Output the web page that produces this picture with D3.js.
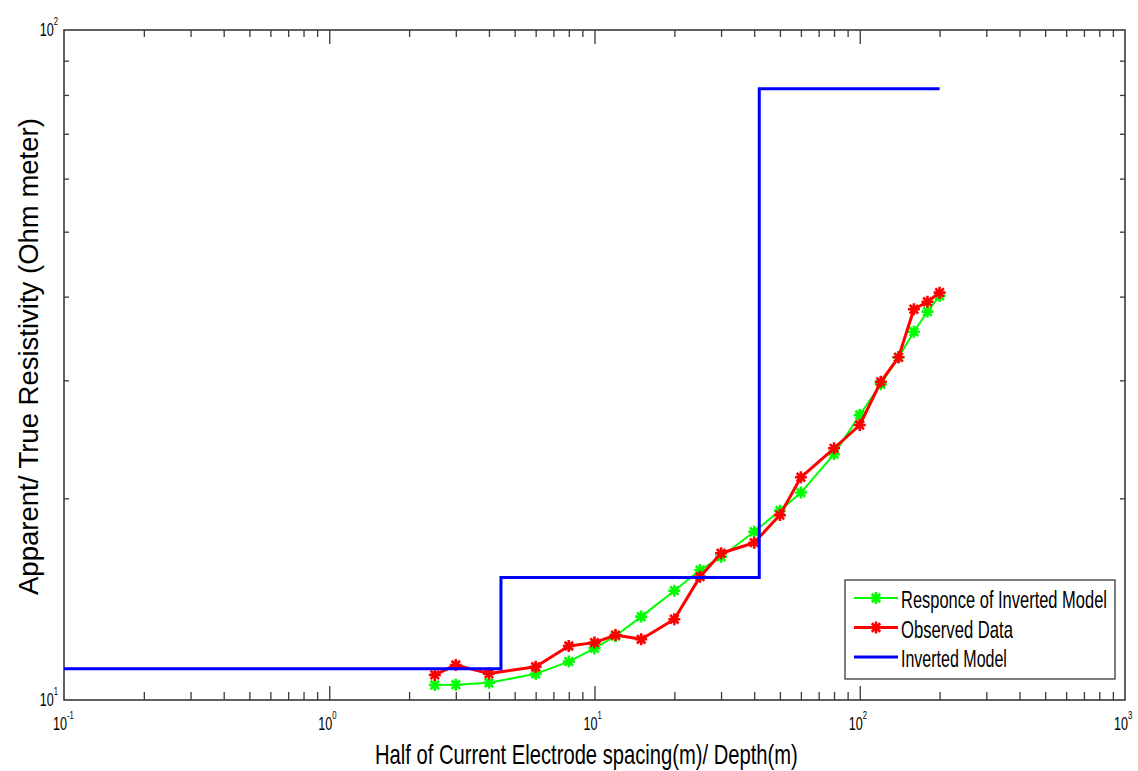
<!DOCTYPE html>
<html>
<head>
<meta charset="utf-8">
<script src="https://cdn.jsdelivr.net/npm/d3@7"></script>
<style>
  html, body { margin: 0; padding: 0; background: #fff; }
  svg { display: block; }
  text { font-family: "Liberation Sans", Arial, sans-serif; fill: #000; }
</style>
</head>
<body>
<svg id="chart" width="1138" height="771"></svg>
<script>
// Half electrode spacing AB/2 (m)
const spacing = [2.5, 3, 4, 6, 8, 10, 12, 15, 20, 25, 30, 40, 50, 60, 80, 100, 120, 140, 160, 180, 200];
// Observed apparent resistivity (Ohm m)
const observed = [10.9, 11.28, 10.95, 11.21, 12.04, 12.18, 12.5, 12.32, 13.2, 15.28, 16.56, 17.17, 18.88, 21.5, 23.75, 25.73, 29.85, 32.47, 38.3, 39.3, 40.55];
// Forward response of the inverted model (Ohm m)
const response = [10.53, 10.54, 10.61, 10.94, 11.41, 11.94, 12.46, 13.32, 14.56, 15.63, 16.36, 17.83, 19.17, 20.4, 23.28, 26.63, 29.6, 32.47, 35.45, 37.99, 40.1];
// Layered model: top depth of each layer and its true resistivity
const layerTop = [0.1, 4.44, 41.8, 200];
const layerRho = [11.13, 15.24, 81.7, 81.7];

const xDecades = [-1, 0, 1, 2, 3];
const yDecades = [1, 2];

const legendItems = [
  { label: "Responce of Inverted Model", color: "#00ff00", marker: true, width: 2 },
  { label: "Observed Data", color: "#ff0000", marker: true, width: 3 },
  { label: "Inverted Model", color: "#0000ff", marker: false, width: 3 }
];

const svg = d3.select("#chart");
const mLeft = 64, mRight = 1125, mTop = 30, mBottom = 700;

const x = d3.scaleLog().domain([0.1, 1000]).range([mLeft, mRight]);
const y = d3.scaleLog().domain([10, 100]).range([mBottom, mTop]);

const axisColor = "#3a3a3a";

// minor and major tick values on the log axes
const xMinor = [];
for (let d = -1; d < 3; d++) for (let k = 2; k <= 9; k++) xMinor.push(k * Math.pow(10, d));
const xMajor = xDecades.map(d => Math.pow(10, d));
const yMinor = [];
for (let k = 2; k <= 9; k++) yMinor.push(k * 10);

const xBottom = d3.axisBottom(x).tickValues(xMinor).tickSize(-8).tickFormat("");
const xBottomMajor = d3.axisBottom(x).tickValues(xMajor.slice(1, -1)).tickSize(-14).tickFormat("");
const xTop = d3.axisTop(x).tickValues(xMinor).tickSize(-7).tickFormat("");
const xTopMajor = d3.axisTop(x).tickValues(xMajor.slice(1, -1)).tickSize(-14).tickFormat("");
const yLeft = d3.axisLeft(y).tickValues(yMinor).tickSize(-5).tickFormat("");
const yRight = d3.axisRight(y).tickValues(yMinor).tickSize(-5).tickFormat("");

function styleAxis(g) {
  g.selectAll(".domain").remove();
  g.selectAll("line").attr("stroke", axisColor).attr("stroke-width", 1.3);
}
svg.append("g").attr("transform", `translate(0,${mBottom})`).call(xBottom).call(styleAxis);
svg.append("g").attr("transform", `translate(0,${mBottom})`).call(xBottomMajor).call(styleAxis);
svg.append("g").attr("transform", `translate(0,${mTop})`).call(xTop).call(styleAxis);
svg.append("g").attr("transform", `translate(0,${mTop})`).call(xTopMajor).call(styleAxis);
svg.append("g").attr("transform", `translate(${mLeft},0)`).call(yLeft).call(styleAxis);
svg.append("g").attr("transform", `translate(${mRight},0)`).call(yRight).call(styleAxis);

// axes box
svg.append("rect")
  .attr("x", mLeft).attr("y", mTop)
  .attr("width", mRight - mLeft).attr("height", mBottom - mTop)
  .attr("fill", "none").attr("stroke", axisColor).attr("stroke-width", 1.6);

// narrow text: squeeze horizontally to a target width
function narrow(sel, targetWidth, prefix) {
  const w = sel.node().getComputedTextLength();
  sel.attr("transform", `${prefix} scale(${targetWidth / w},1)`);
  return sel;
}

// power-of-ten tick labels
function powerLabel(g, px, py, exp, anchor) {
  const t = g.append("text").attr("x", 0).attr("y", 0).attr("text-anchor", anchor);
  t.append("tspan").attr("font-size", 18).text("10");
  t.append("tspan").attr("font-size", 11).attr("dy", -11).text(String(exp));
  t.attr("transform", `translate(${px},${py}) scale(0.7,1)`);
}
const labels = svg.append("g");
yDecades.forEach(d => powerLabel(labels, 58, y(Math.pow(10, d)) + 6, d, "end"));
xDecades.forEach(d => powerLabel(labels, x(Math.pow(10, d)) - 11, mBottom + 30, d, "start"));

// axis titles
narrow(svg.append("text").attr("font-size", 27)
  .text("Half of Current Electrode spacing(m)/ Depth(m)"), 423, "translate(375,764)");

narrow(svg.append("text").attr("font-size", 28)
  .text("Apparent/ True Resistivity (Ohm meter)"), 477, "translate(38,595) rotate(-90)");

// asterisk marker
function asterisk(r) {
  const d = r * Math.SQRT1_2;
  return `M0,${-r}V${r}M${-r},0H${r}M${-d},${-d}L${d},${d}M${-d},${d}L${d},${-d}`;
}

const plot = svg.append("g");
const line = d3.line().x(d => x(d[0])).y(d => y(d[1]));

function drawSeries(values, color, width) {
  const pts = spacing.map((s, i) => [s, values[i]]);
  plot.append("path").datum(pts)
    .attr("d", line).attr("fill", "none")
    .attr("stroke", color).attr("stroke-width", width).attr("stroke-linejoin", "round");
  plot.selectAll(null).data(pts).enter().append("path")
    .attr("transform", d => `translate(${x(d[0])},${y(d[1])})`)
    .attr("d", asterisk(6)).attr("fill", "none")
    .attr("stroke", color).attr("stroke-width", 2.6);
}
drawSeries(response, "#00ff00", 2);
drawSeries(observed, "#ff0000", 3);

// stepped layered model
const model = layerTop.map((t, i) => [t, layerRho[i]]);
plot.append("path").datum(model)
  .attr("d", d3.line().curve(d3.curveStepAfter).x(d => x(d[0])).y(d => y(d[1])))
  .attr("fill", "none").attr("stroke", "#0000ff").attr("stroke-width", 3);

// legend
const lg = svg.append("g");
lg.append("rect")
  .attr("x", 845).attr("y", 580).attr("width", 270).attr("height", 99)
  .attr("fill", "#fff").attr("stroke", axisColor).attr("stroke-width", 1.3);
const widths = [206, 112, 106];
legendItems.forEach((it, i) => {
  const cy = 598 + i * 29.5;
  lg.append("line").attr("x1", 854).attr("x2", 898).attr("y1", cy).attr("y2", cy)
    .attr("stroke", it.color).attr("stroke-width", it.width);
  if (it.marker) {
    lg.append("path").attr("transform", `translate(876,${cy})`)
      .attr("d", asterisk(6)).attr("fill", "none")
      .attr("stroke", it.color).attr("stroke-width", 2.6);
  }
  narrow(lg.append("text").attr("font-size", 24).text(it.label),
    widths[i], `translate(901,${cy + 10})`);
});
</script>
</body>
</html>
